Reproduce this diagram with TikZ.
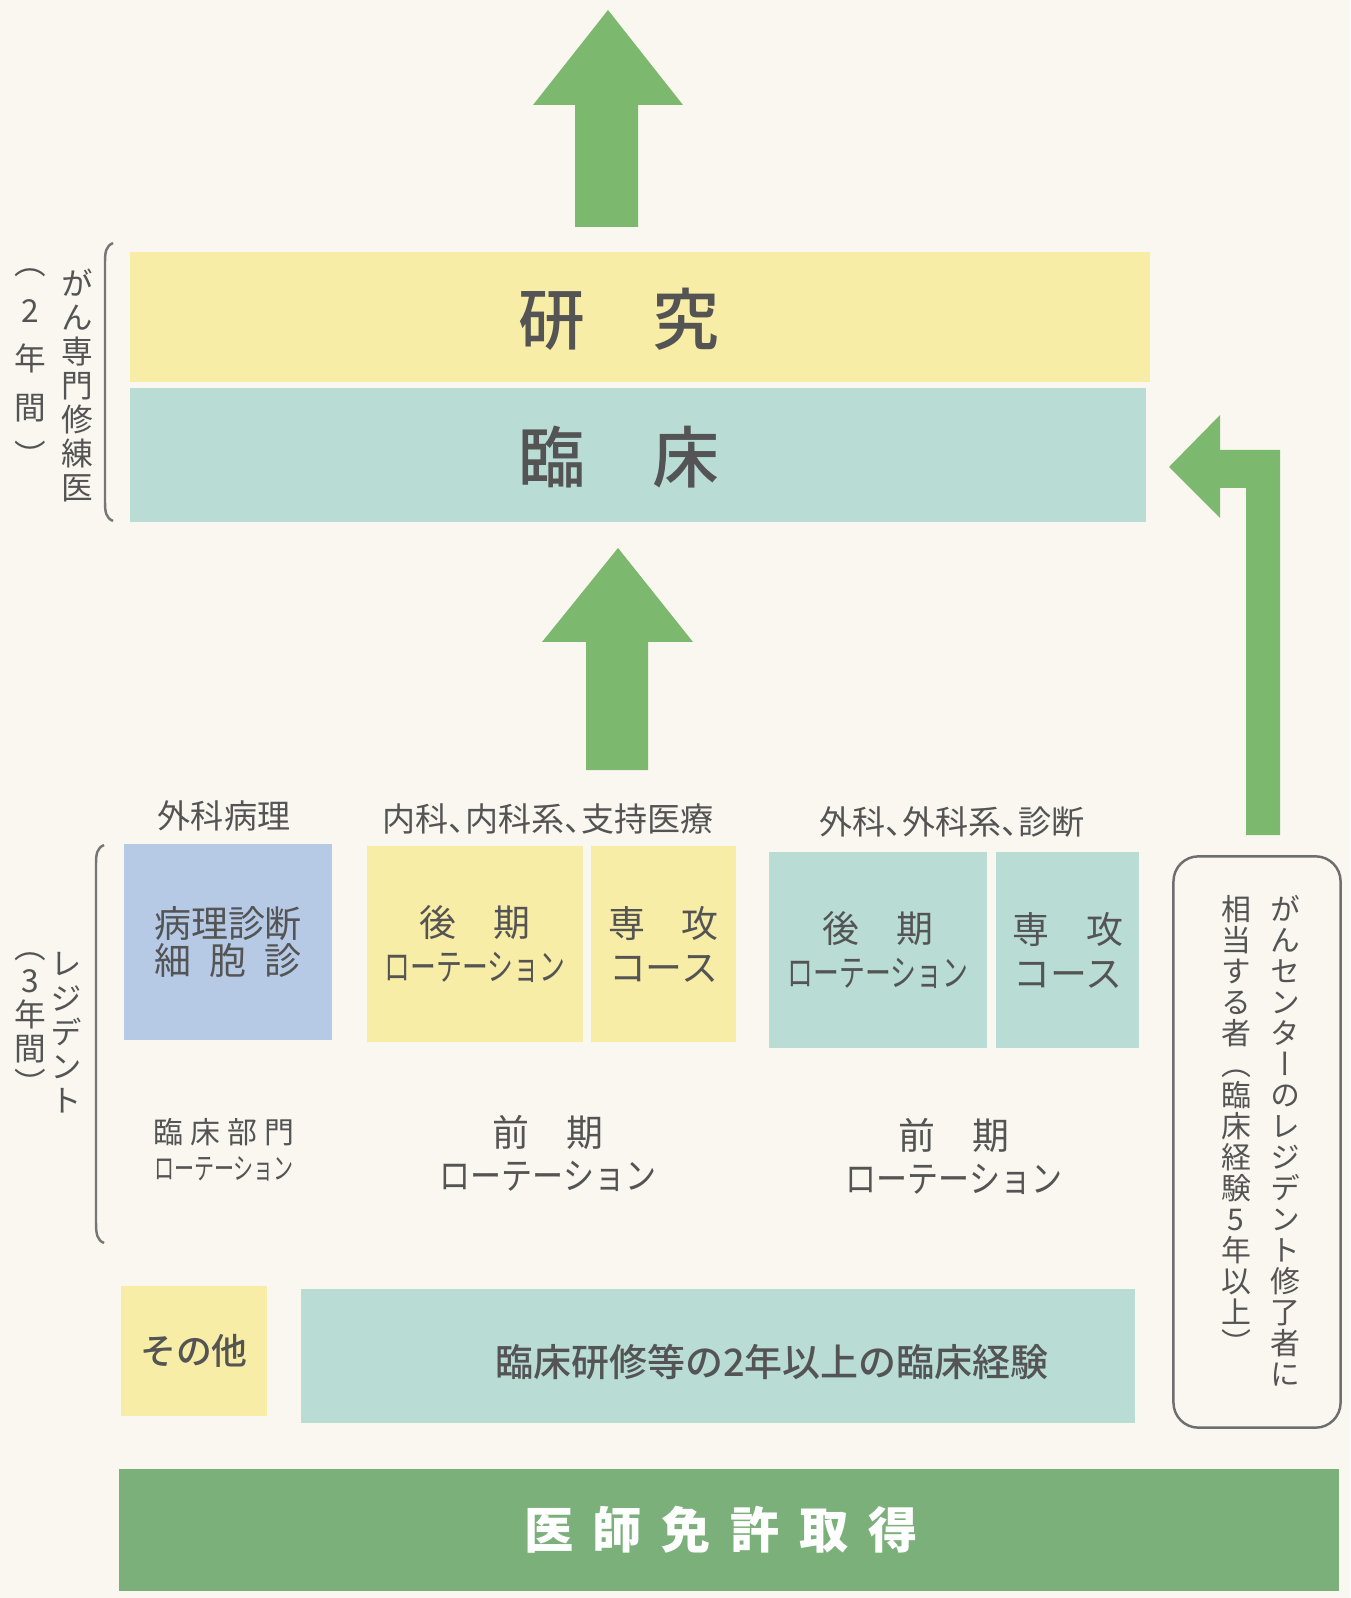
\documentclass[tikz,border=0pt]{standalone}
\usepackage{fontspec}
\setmainfont{Noto Sans CJK JP}
\newfontfamily\tatefont[RawFeature=+vert]{Noto Sans CJK JP}
\newfontfamily\paltfont[RawFeature=+palt]{Noto Sans CJK JP}
\newfontfamily\medfont{Noto Sans CJK JP Medium}
\usepackage{xcolor}
\usepackage{graphicx}
\usetikzlibrary{positioning}

\definecolor{paper}{HTML}{FAF7F1}
\definecolor{paleyellow}{HTML}{F8EDA6}
\definecolor{paleteal}{HTML}{B9DDD5}
\definecolor{paleblue}{HTML}{B6CAE6}
\definecolor{arrowgreen}{HTML}{7DB86F}
\definecolor{deepgreen}{HTML}{7CB07B}
\definecolor{inkgray}{HTML}{545454}

\newcommand{\narrowtext}[2]{\scalebox{#1}[1]{#2}}

\tikzset{
	block/.style={inner sep=0pt, align=center, text=inkgray},
	big/.style={text=inkgray, font=\medfont\fontsize{19pt}{19pt}\selectfont},
	head/.style={text=inkgray, font=\paltfont\fontsize{9.4pt}{10pt}\selectfont},
	inbox/.style={block, minimum height=1.95cm, font=\fontsize{10.5pt}{12.5pt}\selectfont},
	tate/.style={text=inkgray, inner sep=0pt, anchor=north, align=center},
	bracket/.style={draw=inkgray!80, line width=0.7pt}
}

\begin{document}
\begin{tikzpicture}[x=0.01cm, y=-0.01cm]
	\fill[paper] (0,0) rectangle (1350,1598);
	\useasboundingbox (0,0) rectangle (1350,1598);
	
	% top arrows
	\fill[arrowgreen] (575,227) -- (575,105) -- (533,105) -- (608,10) -- (683,105) -- (638,105) -- (638,227) -- cycle;
	\fill[arrowgreen] (586,770) -- (586,642) -- (542,642) -- (618,548) -- (693,642) -- (648,642) -- (648,770) -- cycle;
	\fill[arrowgreen] (1246,835) -- (1246,488) -- (1220,488) -- (1220,518) -- (1169,467) -- (1220,415) -- (1220,450) -- (1280,450) -- (1280,835) -- cycle;
	
	% research and clinic bars
	\node[fill=paleyellow, minimum width=10.2cm, minimum height=1.30cm, inner sep=0pt] (kenkyu) at (640,317) {};
	\node[big] (kenkyulbl) at (619,319) {研　究};
	\node[fill=paleteal, minimum width=10.16cm, minimum height=1.34cm, inner sep=0pt] (rinsho) at (638,455) {};
	\node[big] (rinsholbl) at (619,457) {臨　床};
	
	% left labels
	\draw[bracket] (113,243) .. controls (106,246) and (105,252) .. (105,262) -- (105,502) .. controls (105,512) and (106,518) .. (113,521);
	\node[tate, font=\tatefont\fontsize{9pt}{9.7pt}\selectfont] (shurenlbl) at (77,268) {が\\ん\\専\\門\\修\\練\\医};
	\node[tate, font=\tatefont\fontsize{9pt}{13.7pt}\selectfont] (shurenyrs) at (30,268) {（\\2\\年\\間\\）};
	
	\draw[bracket] (104,845) .. controls (97,848) and (96,854) .. (96,864) -- (96,1222) .. controls (96,1234) and (97,1240) .. (104,1243);
	\node[tate, font=\tatefont\fontsize{9pt}{9.7pt}\selectfont] (residentlbl) at (66,952) {レ\\ジ\\デ\\ン\\ト};
	\node[tate, font=\tatefont\fontsize{9pt}{9.7pt}\selectfont] (residentyrs) at (30,952) {（\\3\\年\\間\\）};
	
	% resident boxes
	\node[head] (byorihead) at (224,816) {外科病理};
	\node[head] (naikahead) at (548,819) {内科、内科系、支持医療};
	\node[head] (gekahead) at (952,822) {外科、外科系、診断};
	
	\node[inbox, fill=paleblue, minimum width=2.08cm, font=\fontsize{10.5pt}{10.8pt}\selectfont] (byori) at (228,942) {病理診断\\細\hspace{0.5em}胞\hspace{0.5em}診};
	\node[inbox, fill=paleyellow, minimum width=2.16cm] (naikakoki) at (475,944) {後　期\\\narrowtext{0.70}{ローテーション}};
	\node[inbox, fill=paleyellow, minimum width=1.44cm, right=0.07cm of naikakoki] (naikasenko) {専　攻\\コース};
	\node[inbox, fill=paleteal, minimum width=2.17cm] (gekakoki) at (878,950) {後　期\\\narrowtext{0.70}{ローテーション}};
	\node[inbox, fill=paleteal, minimum width=1.43cm, right=0.08cm of gekakoki] (gekasenko) {専　攻\\コース};
	
	\node[block, font=\fontsize{8.5pt}{10.2pt}\selectfont] (rinshorot) at (224,1150) {臨\hspace{0.23em}床\hspace{0.23em}部\hspace{0.23em}門\\\narrowtext{0.67}{ローテーション}};
	\node[block, font=\fontsize{10.5pt}{12.2pt}\selectfont] (naikazenki) at (548,1153) {前　期\\\narrowtext{0.84}{ローテーション}};
	\node[block, font=\fontsize{10.5pt}{12.2pt}\selectfont] (gekazenki) at (954,1156) {前　期\\\narrowtext{0.84}{ローテーション}};
	
	% other routes
	\node[block, fill=paleyellow, minimum width=1.45cm, minimum height=1.29cm, font=\medfont\fontsize{10.2pt}{11pt}\selectfont] (sonota) at (194,1351) {その他};
	\node[block, fill=paleteal, minimum width=8.33cm, minimum height=1.33cm] (keiken) at (718,1356) {};
	\node[block, font=\medfont\fontsize{10.8pt}{11pt}\selectfont] (keikenlbl) at (772,1362) {臨床研修等の2年以上の臨床経験};
	
	\node[draw=inkgray!85, line width=0.7pt, rounded corners=0.25cm, minimum width=1.67cm, minimum height=5.71cm, inner sep=0pt] (soutou) at (1257,1142) {};
	\node[tate, font=\tatefont\fontsize{8.5pt}{8.8pt}\selectfont] (soutouR) at (1285,895) {が\\ん\\セ\\ン\\タ\\ー\\の\\レ\\ジ\\デ\\ン\\ト\\修\\了\\者\\に};
	\node[tate, font=\tatefont\fontsize{8.5pt}{8.8pt}\selectfont] (soutouL) at (1236,895) {相\\当\\す\\る\\者\\（\\臨\\床\\経\\験\\5\\年\\以\\上\\）};
	
	% licence bar
	\node[fill=deepgreen, minimum width=12.19cm, minimum height=1.21cm, inner sep=0pt] (menkyo) at (729,1530) {};
	\node[text=white, font=\bfseries\fontsize{14pt}{14pt}\selectfont] (menkyolbl) at (721,1530) {医\hspace{0.4em}師\hspace{0.4em}免\hspace{0.4em}許\hspace{0.4em}取\hspace{0.4em}得};
	
\end{tikzpicture}
\end{document}
